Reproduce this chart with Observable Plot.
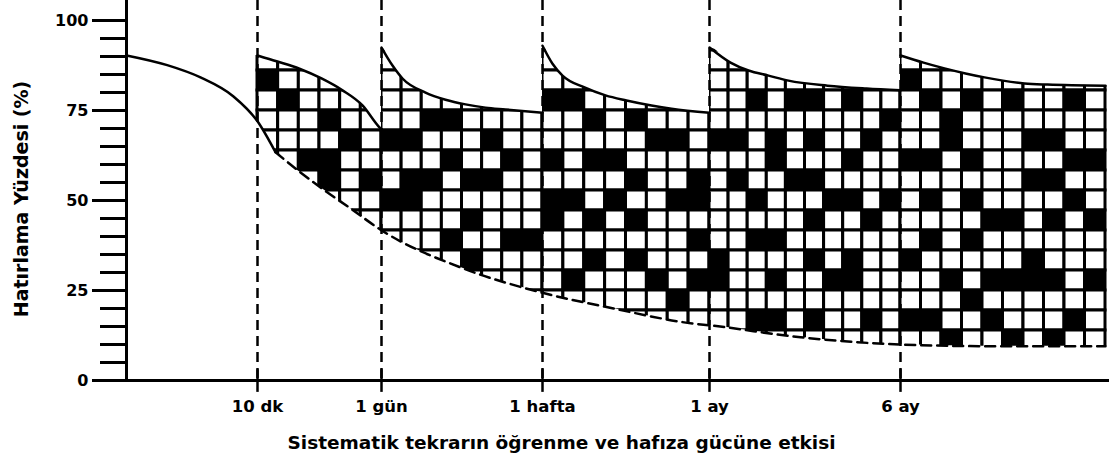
<!DOCTYPE html>
<html>
<head>
<meta charset="utf-8">
<script src="https://cdn.jsdelivr.net/npm/d3@7"></script>
<script src="https://cdn.jsdelivr.net/npm/@observablehq/plot@0.6"></script>
<style>
  html, body { margin: 0; padding: 0; background: #fff; }
  #chart { width: 1109px; height: 463px; }
</style>
</head>
<body>
<div id="chart"></div>
<script>
// ---- Review moments (x in arbitrary time units) ----
const reviewLabels = ["10 dk", "1 gün", "1 hafta", "1 ay", "6 ay"];
const reviewT = [13.1, 25.5, 41.6, 58.3, 77.4];
const endT = 97.9;

// ---- Y axis ----
const yTicks = [0, 25, 50, 75, 100];
const yMinorTicks = [5, 10, 15, 20, 30, 35, 40, 45, 55, 60, 65, 70, 80, 85, 90, 95];

// ---- Initial forgetting curve (solid) ----
const forgetX = [0, 4.07, 7.4, 10.7, 13.1, 14.9];
const forgetY = [90.3, 87.6, 84.2, 78.9, 72, 63.4];

// ---- Forgetting curve without review (dashed) ----
const lowerX = [14.9, 17.4, 19.4, 22.4, 25.4, 33.7, 41.4, 48.7, 56.7, 58.4, 67.4, 77.4, 87.4, 97.9];
const lowerY = [63.4, 57.8, 53.6, 47.8, 41.9, 31.1, 24.5, 20, 15.8, 15.3, 12, 10, 9.5, 9.5];

// ---- Retention curves after each review ----
const upper1X = [13.1, 15.1, 17.3, 19.5, 21.6, 23.6, 25.2, 25.5];
const upper1Y = [90.3, 88.6, 86.6, 83.9, 80.6, 76.4, 70.6, 69.7];
const upper2X = [25.5, 26.6, 27.6, 29.9, 31.9, 33.9, 35.9, 37.9, 41.6];
const upper2Y = [92.5, 87.5, 83.9, 80, 78, 76.7, 75.8, 75.3, 74.4];
const upper3X = [41.6, 42.6, 43.6, 45.8, 47.9, 50, 52.5, 54.5, 58.3];
const upper3Y = [93, 88, 84.7, 81.4, 79.2, 77.8, 76.4, 75.5, 74.4];
const upper4X = [58.3, 60.4, 62.2, 64.2, 66.2, 70.1, 74, 77.4];
const upper4Y = [92.5, 88.3, 86.1, 84.7, 83.3, 81.9, 81.1, 80.6];
const upper5X = [77.4, 79.7, 81.8, 83.9, 85.8, 89.8, 92.1, 97.9];
const upper5Y = [90.3, 88.3, 86.7, 85.3, 84.2, 82.5, 82.2, 81.9];

// ---- Grid pattern: columns per segment, black cells as [row from top, column] ----
const segmentCols = [6, 8, 8, 10, 10];
const black1 = [[1,0],[2,1],[3,3],[4,4],[5,2],[5,3],[6,3],[6,5]];
const black2 = [[3,2],[3,3],[4,0],[4,1],[4,5],[5,3],[5,6],[6,1],[6,2],[6,4],[6,5],[7,0],[7,1],[8,4],[9,3],[9,6],[9,7],[10,4]];
const black3 = [[2,0],[2,1],[3,2],[3,4],[4,5],[4,6],[5,0],[5,2],[5,3],[6,4],[6,7],[7,0],[7,1],[7,3],[7,6],[7,7],[8,0],[8,2],[8,4],[9,7],[10,2],[10,4],[11,1],[11,5],[11,7],[12,6]];
const black4 = [[2,2],[2,4],[2,5],[2,7],[3,9],[4,0],[4,1],[4,3],[4,5],[4,8],[5,3],[5,7],[6,1],[6,4],[6,5],[7,2],[7,6],[7,7],[7,9],[8,5],[8,8],[9,2],[9,3],[10,0],[10,5],[10,7],[11,0],[11,3],[11,6],[11,7],[13,2],[13,3],[13,5],[13,8]];
const black5 = [[1,0],[2,1],[2,3],[2,5],[2,8],[3,2],[4,2],[4,6],[4,7],[5,0],[5,1],[5,3],[5,8],[5,9],[6,6],[6,7],[7,1],[7,3],[7,8],[8,4],[8,5],[8,7],[8,9],[9,1],[9,3],[10,0],[10,6],[11,2],[11,4],[11,5],[11,6],[11,7],[11,9],[12,3],[13,0],[13,1],[13,4],[13,8],[14,2],[14,5],[14,7]];

const xTitle = "Sistematik tekrarın öğrenme ve hafıza gücüne etkisi";
const yTitle = "Hatırlama Yüzdesi (%)";

// ---- Build tables ----
const Y_TOP = 105.56;
const rowStep = 50 / 9;
const blackSets = [black1, black2, black3, black4, black5].map(a => new Set(a.map(([r, c]) => r + "-" + c)));
const segEnd = [...reviewT.slice(1), endT];
const cells = [];
segmentCols.forEach((n, s) => {
  const w = (segEnd[s] - reviewT[s]) / n;
  for (let c = 0; c < n; c++) {
    for (let r = -1; r <= 15; r++) {
      const k = 11 - r;
      cells.push({
        x1: reviewT[s] + c * w, x2: reviewT[s] + (c + 1) * w,
        y1: 25 + k * rowStep, y2: 25 + (k + 1) * rowStep,
        black: blackSets[s].has(r + "-" + c)
      });
    }
  }
});

const zip = (xs, ys, seg) => xs.map((x, i) => ({x, y: ys[i], seg}));
const upperSets = [[upper1X, upper1Y], [upper2X, upper2Y], [upper3X, upper3Y], [upper4X, upper4Y], [upper5X, upper5Y]];
const upper = upperSets.flatMap(([xs, ys], s) => zip(xs, ys, s));
const upperMask = upperSets.flatMap(([xs, ys], s) => {
  const pts = zip(xs, ys, s);
  pts.unshift({x: xs[0] - 0.3, y: ys[0], seg: s});
  if (s === upperSets.length - 1) pts.push({x: 98.4, y: ys[ys.length - 1], seg: s});
  return pts;
});
const forget = zip(forgetX, forgetY, 0);
const lower = zip(lowerX, lowerY, 0);
const lowerMask = [...zip(forgetX.slice(3), forgetY.slice(3), 0), ...lower.slice(1), {x: 98.4, y: 9.5}];
const labelOf = new Map(reviewT.map((t, i) => [t, reviewLabels[i]]));

const FONT = "DejaVu Sans, sans-serif";

const chart = Plot.plot({
  width: 1109,
  height: 463,
  marginLeft: 100,
  marginRight: 0,
  marginTop: 0,
  marginBottom: 83,
  x: {domain: [-2.6, 98.3], axis: null},
  y: {domain: [0, Y_TOP], axis: null},
  style: {fontFamily: FONT, background: "white", color: "black"},
  marks: [
    Plot.rect(cells, {x1: "x1", x2: "x2", y1: "y1", y2: "y2", fill: d => d.black ? "black" : "white", stroke: "black", strokeWidth: 3}),
    Plot.areaY(upperMask, {x: "x", y1: "y", y2: Y_TOP, z: "seg", fill: "white", curve: "monotone-x"}),
    Plot.areaY(lowerMask, {x: "x", y1: 0, y2: "y", fill: "white", curve: "monotone-x"}),
    Plot.ruleX(reviewT, {stroke: "black", strokeWidth: 2.5, strokeDasharray: "10,6"}),
    Plot.line(upper, {x: "x", y: "y", z: "seg", stroke: "black", strokeWidth: 2.5, curve: "monotone-x"}),
    Plot.line(forget, {x: "x", y: "y", stroke: "black", strokeWidth: 2.5, curve: "monotone-x"}),
    Plot.line(lower, {x: "x", y: "y", stroke: "black", strokeWidth: 2.5, strokeDasharray: "10,6", curve: "monotone-x"}),
    Plot.ruleY(yMinorTicks, {x1: -2.6, x2: 0, stroke: "black", strokeWidth: 3}),
    Plot.ruleY(yTicks, {x1: -3.4, x2: 0, stroke: "black", strokeWidth: 3}),
    Plot.axisY({ticks: yTicks, tickSize: 0, tickPadding: 12, fontSize: 16, fontWeight: "bold", label: null}),
    Plot.ruleX([0], {stroke: "black", strokeWidth: 3}),
    Plot.ruleY([0], {stroke: "black", strokeWidth: 3}),
    Plot.ruleX(reviewT, {y1: -3.3, y2: 3, stroke: "black", strokeWidth: 2.5}),
    Plot.axisX({ticks: reviewT, tickSize: 0, tickPadding: 20, tickFormat: d => labelOf.get(d), fontSize: 16.5, fontWeight: "bold", label: null}),
    Plot.text([xTitle], {text: d => d, frameAnchor: "bottom", textAnchor: "middle", lineAnchor: "middle", dx: -43.5, dy: 63, fontSize: 18.5, fontWeight: "bold", fill: "black"}),
    Plot.text([yTitle], {text: d => d, frameAnchor: "left", textAnchor: "middle", lineAnchor: "middle", rotate: -90, dx: -79, dy: 8.5, fontSize: 19, fontWeight: "bold", fill: "black"})
  ]
});
document.getElementById("chart").appendChild(chart);
</script>
</body>
</html>
